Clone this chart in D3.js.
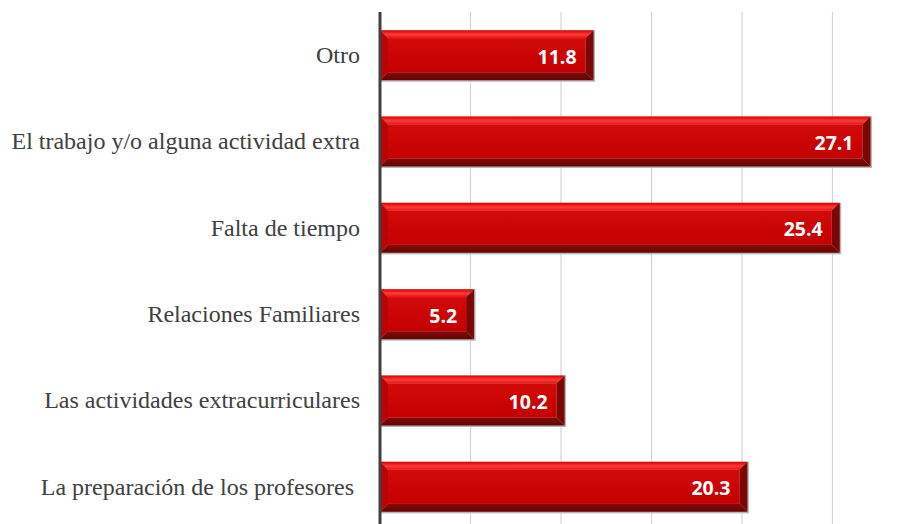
<!DOCTYPE html>
<html><head><meta charset="utf-8">
<script src="https://cdn.jsdelivr.net/npm/d3@7"></script>
<style>body{margin:0;background:#fff}svg{display:block}</style>
</head><body><svg id="c" width="912" height="524"></svg>
<script>
const categories = ["Otro","El trabajo y/o alguna actividad extra","Falta de tiempo","Relaciones Familiares","Las actividades extracurriculares","La preparación de los profesores "];
const values = [11.8,27.1,25.4,5.2,10.2,20.3];
const ticks = [0,5,10,15,20,25];

const svg = d3.select("#c");
const x = d3.scaleLinear().domain([0,30]).range([380,923]);
const y = d3.scaleBand().domain(categories).range([12,530]).paddingInner(0.42).paddingOuter(0.21);

svg.append("g").selectAll("line").data(ticks.slice(1)).join("line")
  .attr("x1",d=>x(d)).attr("x2",d=>x(d)).attr("y1",12).attr("y2",524)
  .attr("stroke","#d4d4d4").attr("stroke-width",1.2);

const defs = svg.append("defs");
const gTop = defs.append("linearGradient").attr("id","gt").attr("x1",0).attr("x2",0).attr("y1",0).attr("y2",1);
gTop.append("stop").attr("offset","0%").attr("stop-color","#d80000");
gTop.append("stop").attr("offset","55%").attr("stop-color","#ff3a3a");
gTop.append("stop").attr("offset","100%").attr("stop-color","#e81010");
const gFace = defs.append("linearGradient").attr("id","gf").attr("x1",0).attr("x2",0).attr("y1",0).attr("y2",1);
gFace.append("stop").attr("offset","0%").attr("stop-color","#d20a0a");
gFace.append("stop").attr("offset","100%").attr("stop-color","#c40000");
const gBot = defs.append("linearGradient").attr("id","gb").attr("x1",0).attr("x2",0).attr("y1",0).attr("y2",1);
gBot.append("stop").attr("offset","0%").attr("stop-color","#8a0808");
gBot.append("stop").attr("offset","100%").attr("stop-color","#5e0606");

const b = 8;
const bars = svg.append("g").selectAll("g").data(values).join("g");
bars.each(function(v,i){
  const g = d3.select(this);
  const x0 = x(0), x1 = x(v), y0 = y(categories[i]), y1 = y0 + y.bandwidth();
  g.append("rect").attr("x",x0).attr("y",y0).attr("width",x1-x0+1.5).attr("height",y1-y0+1.5).attr("fill","#b8b8b8");
  g.append("polygon").attr("points",[[x0,y0],[x1,y0],[x1-b,y0+b],[x0+b,y0+b]].join(" ")).attr("fill","url(#gt)");
  g.append("polygon").attr("points",[[x0,y1],[x1,y1],[x1-b,y1-b],[x0+b,y1-b]].join(" ")).attr("fill","url(#gb)");
  g.append("polygon").attr("points",[[x1,y0],[x1,y1],[x1-b,y1-b],[x1-b,y0+b]].join(" ")).attr("fill","#7a0606");
  g.append("polygon").attr("points",[[x0,y0],[x0,y1],[x0+b,y1-b],[x0+b,y0+b]].join(" ")).attr("fill","#b80404");
  g.append("rect").attr("x",x0+b).attr("y",y0+b).attr("width",Math.max(0,x1-x0-2*b)).attr("height",y1-y0-2*b).attr("fill","url(#gf)");
  g.append("text").attr("x",x1-17).attr("y",(y0+y1)/2+1.5).attr("dy","0.36em")
    .attr("text-anchor","end").attr("fill","#fff").attr("font-family","Open Sans, Noto Sans, sans-serif")
    .attr("font-weight","bold").attr("font-size",19.5).text(v.toFixed(1));
});

svg.append("g").selectAll("text").data(categories).join("text")
  .attr("x",360).attr("y",d=>y(d)+y.bandwidth()/2).attr("dy","0.33em")
  .attr("text-anchor","end").attr("fill","#404040").style("white-space","pre")
  .attr("font-family","'Liberation Serif', 'Times New Roman', serif").attr("font-size",24).text(d=>d);

svg.append("line").attr("x1",x(0)).attr("x2",x(0)).attr("y1",12).attr("y2",524)
  .attr("stroke","#404040").attr("stroke-width",3);
</script></body></html>
